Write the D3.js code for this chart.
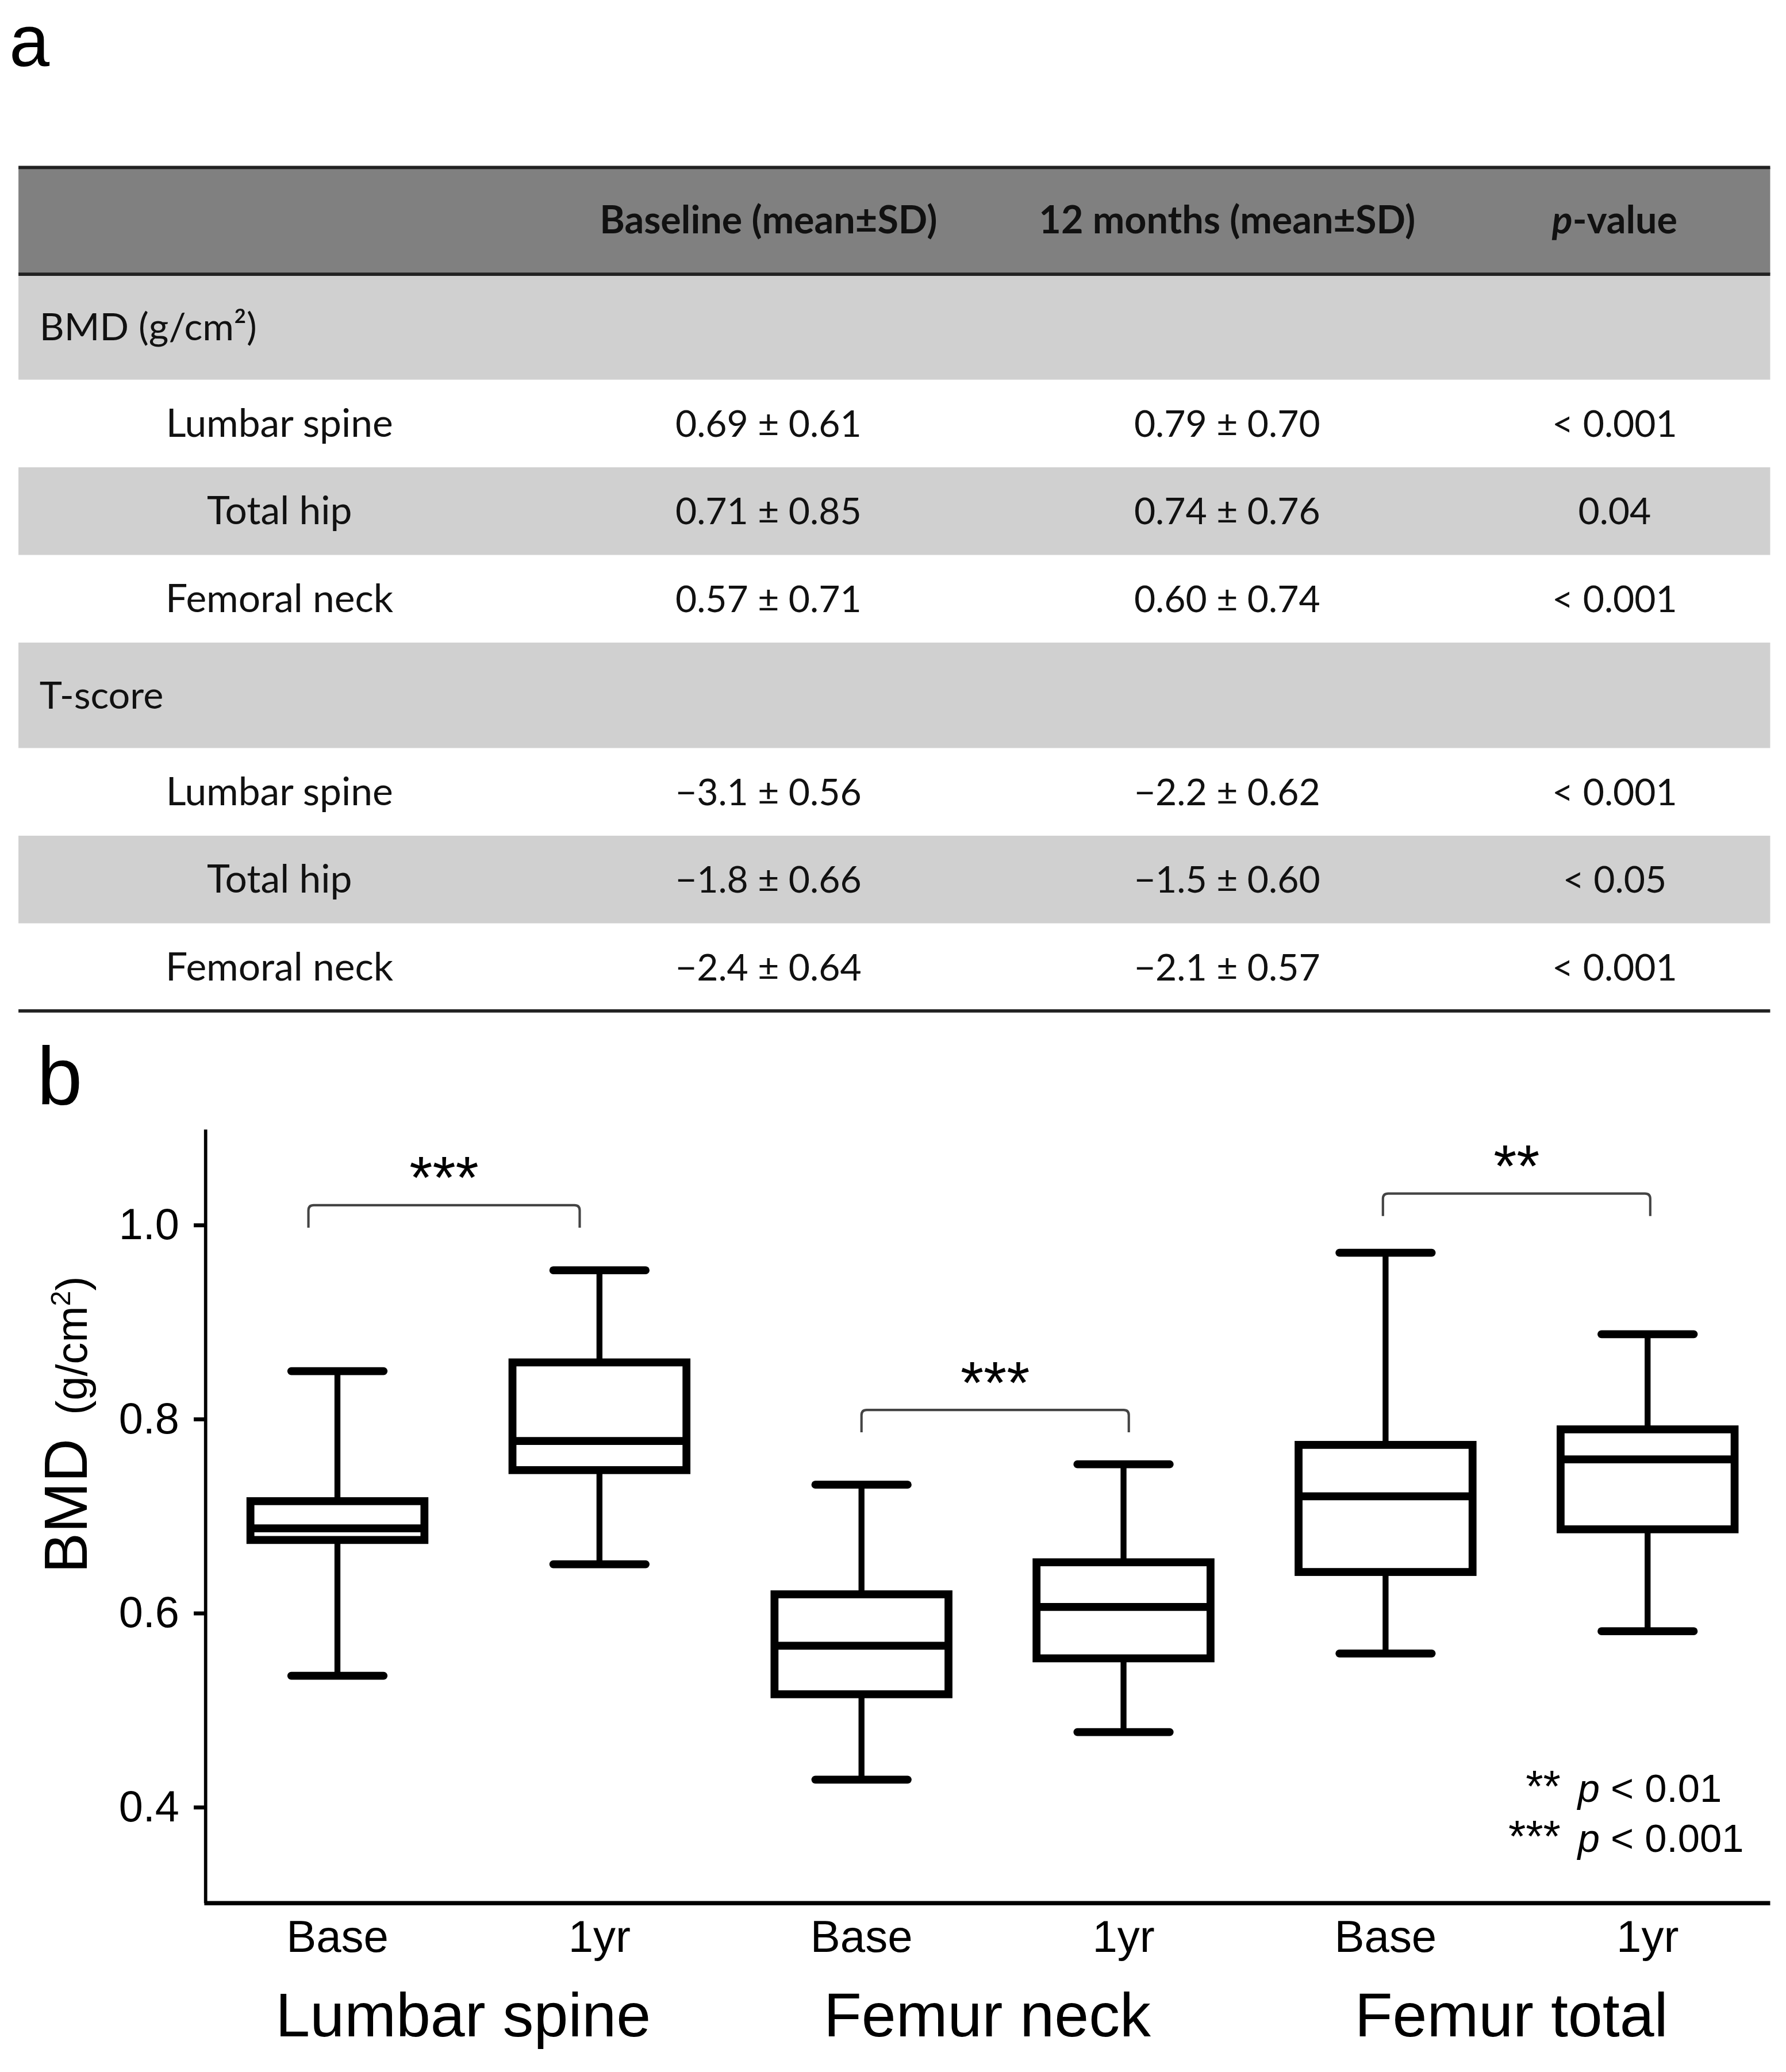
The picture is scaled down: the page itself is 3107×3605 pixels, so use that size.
<!DOCTYPE html>
<html>
<head>
<meta charset="utf-8">
<script src="https://cdn.jsdelivr.net/npm/d3@7"></script>
<style>
  body { margin: 0; background: #fff; }
  svg { display: block; }
</style>
</head>
<body>
<script>
// ---- table data (panel a) ----
const headers = ["Baseline (mean±SD)", "12 months (mean±SD)", "p-value"];
const sections = ["BMD (g/cm²)", "T-score"];
const sites = ["Lumbar spine", "Total hip", "Femoral neck"];
const bmdBase = ["0.69 ± 0.61", "0.71 ± 0.85", "0.57 ± 0.71"];
const bmd12 = ["0.79 ± 0.70", "0.74 ± 0.76", "0.60 ± 0.74"];
const bmdP = ["< 0.001", "0.04", "< 0.001"];
const tBase = ["\u22123.1 ± 0.56", "\u22121.8 ± 0.66", "\u22122.4 ± 0.64"];
const t12 = ["\u22122.2 ± 0.62", "\u22121.5 ± 0.60", "\u22122.1 ± 0.57"];
const tP = ["< 0.001", "< 0.05", "< 0.001"];

// ---- box plot data (panel b) ----
const groups = ["Lumbar spine", "Femur neck", "Femur total"];
const times = ["Base", "1yr"];
const whiskLow = [0.535, 0.650, 0.428, 0.477, 0.558, 0.581];
const q1 = [0.675, 0.747, 0.516, 0.553, 0.642, 0.686];
const median = [0.687, 0.777, 0.566, 0.606, 0.720, 0.758];
const q3 = [0.715, 0.858, 0.619, 0.652, 0.773, 0.789];
const whiskHigh = [0.849, 0.953, 0.732, 0.753, 0.971, 0.887];
const sigStars = ["***", "***", "**"];
const bracketY = [1.020, 0.809, 1.032];
const yTicks = [0.4, 0.6, 0.8, 1.0];

const W = 1355, H = 1572;
const svg = d3.select("body").append("svg")
  .attr("width", 3107).attr("height", 3605)
  .attr("viewBox", `0 0 ${W} ${H}`);

const tableFont = "Lato, 'Open Sans', sans-serif";
const chartFont = "'Liberation Sans', Arial, sans-serif";

// panel label a
svg.append("text").attr("x", 7).attr("y", 50)
  .attr("font-family", chartFont).attr("font-size", 55).text("a");

// ---- table ----
const tx0 = 14, tx1 = 1343;
const colX = [212, 583, 931, 1225];
const headTop = 127, headBot = 208, secH = 80, rowH = 66.5;

svg.append("rect").attr("x", tx0).attr("y", headTop).attr("width", tx1 - tx0)
  .attr("height", headBot - headTop).attr("fill", "#808080");

const rows = [];
let yy = headBot;
[[bmdBase, bmd12, bmdP], [tBase, t12, tP]].forEach((vals, si) => {
  rows.push({type: "sec", y: yy, h: secH, label: sections[si]});
  yy += secH;
  sites.forEach((s, i) => {
    rows.push({type: "row", y: yy, h: rowH, label: s, vals: [vals[0][i], vals[1][i], vals[2][i]], shade: i === 1});
    yy += rowH;
  });
});
const tableBottom = yy;

svg.selectAll("rect.row").data(rows.filter(r => r.type === "sec" || r.shade)).enter()
  .append("rect").attr("class", "row")
  .attr("x", tx0).attr("y", d => d.y).attr("width", tx1 - tx0).attr("height", d => d.h)
  .attr("fill", "#d0d0d0");

// header text
svg.selectAll("text.head").data(headers).enter().append("text").attr("class", "head")
  .attr("x", (d, i) => colX[i + 1]).attr("y", 177)
  .attr("text-anchor", "middle").attr("font-family", tableFont).attr("font-weight", "bold")
  .attr("font-size", 29).attr("fill", "#111")
  .each(function(d) {
    const t = d3.select(this);
    if (d.startsWith("p-")) {
      t.append("tspan").attr("font-style", "italic").text("p");
      t.append("tspan").text(d.slice(1));
    } else t.text(d);
  });

svg.selectAll("text.sec").data(rows.filter(r => r.type === "sec")).enter().append("text")
  .attr("class", "sec").attr("x", 30).attr("y", d => d.y + d.h / 2 + 10)
  .attr("font-family", tableFont).attr("font-size", 29).attr("fill", "#111")
  .text(d => d.label);

const dataRows = rows.filter(r => r.type === "row");
dataRows.forEach(r => {
  [r.label].concat(r.vals).forEach((v, i) => {
    svg.append("text").attr("x", colX[i]).attr("y", r.y + r.h / 2 + 10)
      .attr("text-anchor", "middle").attr("font-family", tableFont)
      .attr("font-size", i === 0 ? 29.5 : 28).attr("fill", "#111").text(v);
  });
});

// table rules
[[headTop, 2.5], [headBot, 2.5], [tableBottom, 2.5]].forEach(([y, w]) => {
  svg.append("line").attr("x1", tx0).attr("x2", tx1).attr("y1", y).attr("y2", y)
    .attr("stroke", "#222").attr("stroke-width", w);
});

// ---- panel b ----
svg.append("text").attr("x", 28).attr("y", 838)
  .attr("font-family", chartFont).attr("font-size", 62).text("b");

const ax0 = 156, ax1 = 1343, ayTop = 857, ayBot = 1444;
const y = d3.scaleLinear().domain([0.3, 1.1]).range([1444.5, 855.5]);
const keys = [];
groups.forEach(g => times.forEach(t => keys.push(g + "|" + t)));
const x = d3.scalePoint().domain(keys).range([256, 1250]);
const boxW = 132, capW = 70;

const yAxis = svg.append("g").attr("transform", `translate(${ax0},0)`)
  .call(d3.axisLeft(y).tickValues(yTicks).tickFormat(d3.format(".1f")).tickSize(9).tickSizeOuter(0));
yAxis.select(".domain").remove();
yAxis.selectAll(".tick line").attr("stroke", "#000").attr("stroke-width", 3);
yAxis.selectAll(".tick text").attr("font-family", chartFont).attr("font-size", 33)
  .attr("fill", "#000").attr("x", -20);

svg.append("line").attr("x1", ax0).attr("x2", ax0).attr("y1", ayTop).attr("y2", ayBot)
  .attr("stroke", "#000").attr("stroke-width", 2.5);
svg.append("line").attr("x1", ax0 - 1).attr("x2", ax1).attr("y1", ayBot).attr("y2", ayBot)
  .attr("stroke", "#000").attr("stroke-width", 3.2);

// y label
const yl = svg.append("text").attr("transform", `translate(66,1081) rotate(-90)`)
  .attr("text-anchor", "middle").attr("font-family", chartFont).attr("fill", "#000");
yl.append("tspan").attr("font-size", 46).text("BMD");
yl.append("tspan").attr("font-size", 33).attr("dx", 18).text("(g/cm");
yl.append("tspan").attr("font-size", 21).attr("dy", -13).text("2");
yl.append("tspan").attr("font-size", 33).attr("dy", 13).text(")");

// boxes
const boxes = keys.map((k, i) => ({k, lo: whiskLow[i], q1: q1[i], med: median[i], q3: q3[i], hi: whiskHigh[i]}));
const bg = svg.selectAll("g.box").data(boxes).enter().append("g").attr("class", "box");
bg.append("line").attr("x1", d => x(d.k)).attr("x2", d => x(d.k))
  .attr("y1", d => y(d.hi)).attr("y2", d => y(d.q3)).attr("stroke", "#000").attr("stroke-width", 4.5);
bg.append("line").attr("x1", d => x(d.k)).attr("x2", d => x(d.k))
  .attr("y1", d => y(d.q1)).attr("y2", d => y(d.lo)).attr("stroke", "#000").attr("stroke-width", 4.5);
bg.selectAll("line.cap").data(d => [[d.k, d.hi], [d.k, d.lo]]).enter().append("line").attr("class", "cap")
  .attr("x1", d => x(d[0]) - capW / 2).attr("x2", d => x(d[0]) + capW / 2)
  .attr("y1", d => y(d[1])).attr("y2", d => y(d[1]))
  .attr("stroke", "#000").attr("stroke-width", 6).attr("stroke-linecap", "round");
bg.append("rect").attr("x", d => x(d.k) - boxW / 2).attr("width", boxW)
  .attr("y", d => y(d.q3)).attr("height", d => y(d.q1) - y(d.q3))
  .attr("fill", "none").attr("stroke", "#000").attr("stroke-width", 6);
bg.append("line").attr("x1", d => x(d.k) - boxW / 2).attr("x2", d => x(d.k) + boxW / 2)
  .attr("y1", d => y(d.med)).attr("y2", d => y(d.med)).attr("stroke", "#000").attr("stroke-width", 6);

// significance brackets
const bracketShift = [[-22, -15], [0, 4], [-2, 2]];
groups.forEach((g, i) => {
  const xa = x(g + "|Base") + bracketShift[i][0], xb = x(g + "|1yr") + bracketShift[i][1];
  const by = y(bracketY[i]), drop = 17, r = 4;
  svg.append("path")
    .attr("d", `M${xa},${by + drop} L${xa},${by + r} Q${xa},${by} ${xa + r},${by} L${xb - r},${by} Q${xb},${by} ${xb},${by + r} L${xb},${by + drop}`)
    .attr("fill", "none").attr("stroke", "#444").attr("stroke-width", 1.8);
  svg.append("text").attr("x", (xa + xb) / 2).attr("y", by - 5)
    .attr("text-anchor", "middle").attr("font-family", chartFont).attr("font-size", 45)
    .text(sigStars[i]);
});

// legend
const legend = [["**", "< 0.01"], ["***", "< 0.001"]];
legend.forEach((d, i) => {
  const ly = 1367 + i * 38;
  svg.append("text").attr("x", 1184).attr("y", ly).attr("text-anchor", "end")
    .attr("font-family", chartFont).attr("font-size", 34).attr("fill", "#000").text(d[0]);
  const t = svg.append("text").attr("x", 1197).attr("y", ly)
    .attr("font-family", chartFont).attr("font-size", 30).attr("fill", "#000");
  t.append("tspan").attr("font-style", "italic").text("p");
  t.append("tspan").text(" " + d[1]);
});

// x labels
svg.selectAll("text.tl").data(keys).enter().append("text").attr("class", "tl")
  .attr("x", d => x(d)).attr("y", 1481).attr("text-anchor", "middle")
  .attr("font-family", chartFont).attr("font-size", 34).text(d => d.split("|")[1]);
svg.selectAll("text.gl").data(groups).enter().append("text").attr("class", "gl")
  .attr("x", g => (x(g + "|Base") + x(g + "|1yr")) / 2 - 4).attr("y", 1545).attr("text-anchor", "middle")
  .attr("font-family", chartFont).attr("font-size", 47).text(g => g);
</script>
</body>
</html>
